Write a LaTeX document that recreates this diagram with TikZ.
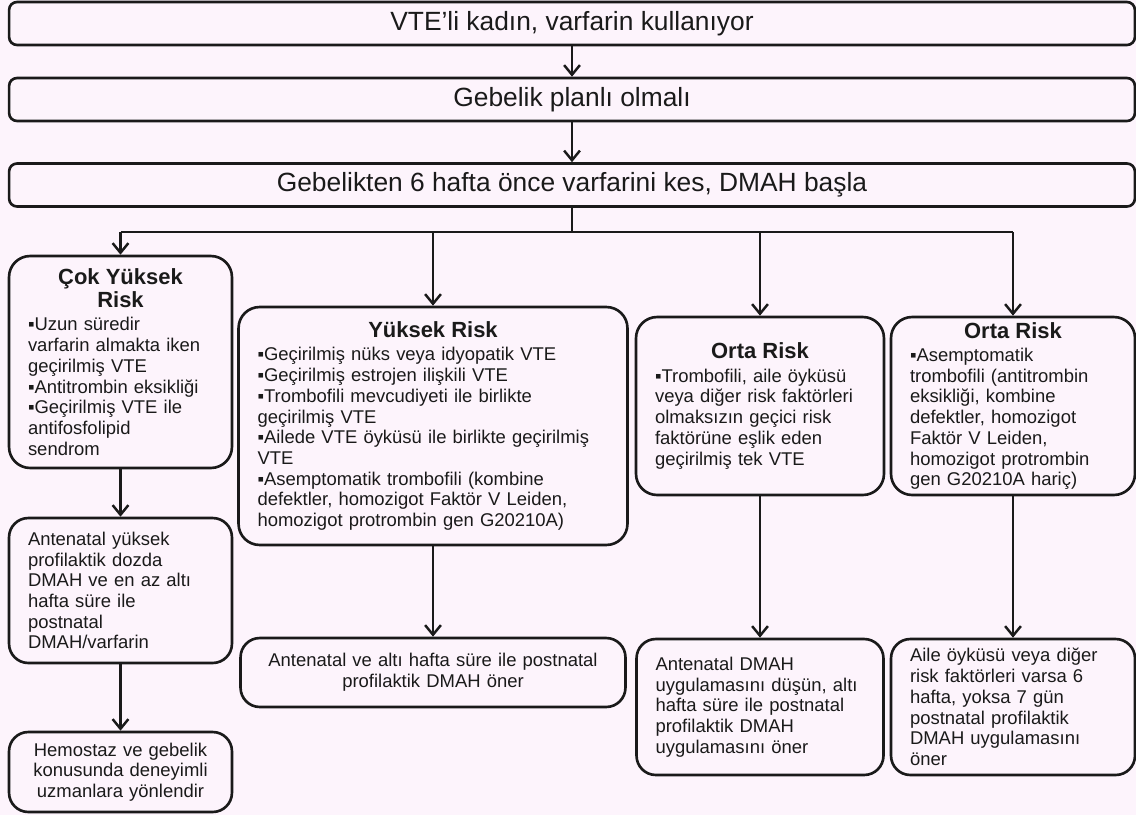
\documentclass[tikz,border=0pt]{standalone}
\usepackage{fontspec}
\setmainfont{Liberation Sans}
\usetikzlibrary{arrows.meta}

\definecolor{bgpink}{RGB}{253,244,252}
\definecolor{inkgray}{RGB}{26,26,26}

\begin{document}
\begin{tikzpicture}[x=0.02cm, y=-0.02cm,
    >={Straight Barb[length=5.5pt,width=9pt]},
    link/.style={line width=1.4pt, draw=inkgray},
    stagebox/.style={draw=inkgray, line width=1.5pt, rounded corners=4.5pt,
      minimum width=22.52cm, minimum height=0.86cm, inner sep=0pt,
      font=\fontsize{15}{18}\selectfont, text=inkgray},
    riskbox/.style={draw=inkgray, line width=1.5pt, rounded corners=12pt,
      inner xsep=0.38cm, inner ysep=0pt, align=left,
      font=\fontsize{10.5}{11.8}\selectfont, text=inkgray},
    advicebox/.style={riskbox, rounded corners=11pt}]
    \def\risktitle#1{{\centering\fontsize{12.5}{13.2}\selectfont\bfseries #1\par}\vspace{1.5pt}}

    \useasboundingbox (0, 0) rectangle (1136, 815);

    \fill [bgpink] (0, 0) rectangle (1136, 815);


    \node [stagebox] (start) at (572, 23.5) {VTE’li kadın, varfarin kullanıyor};

    \node [stagebox] (plan) at (572, 99.5) {Gebelik planlı olmalı};

    \node [stagebox] (stop) at (572, 185) {Gebelikten 6 hafta önce varfarini kes, DMAH başla};


    \node [riskbox, text width=3.70cm, minimum height=4.24cm] (cokrisk) at (120.5, 362)
    {\risktitle{Çok Yüksek\\Risk}▪Uzun süredir\\varfarin almakta iken\\geçirilmiş VTE\\▪Antitrombin eksikliği\\▪Geçirilmiş VTE ile\\antifosfolipid\\sendrom};

    \node [riskbox, text width=7.02cm, minimum height=4.76cm] (yuksekrisk) at (433, 426)
    {\risktitle{Yüksek Risk}▪Geçirilmiş nüks veya idyopatik VTE\\▪Geçirilmiş estrojen ilişkili VTE\\▪Trombofili mevcudiyeti ile birlikte\\geçirilmiş VTE\\▪Ailede VTE öyküsü ile birlikte geçirilmiş\\VTE\\▪Asemptomatik trombofili (kombine\\defektler, homozigot Faktör V Leiden,\\homozigot protrombin gen G20210A)};

    \node [riskbox, text width=4.20cm, minimum height=3.56cm] (ortarisk) at (760, 406)
    {\risktitle{Orta Risk}▪Trombofili, aile öyküsü\\veya diğer risk faktörleri\\olmaksızın geçici risk\\faktörüne eşlik eden\\geçirilmiş tek VTE};

    \node [riskbox, text width=4.12cm, minimum height=3.56cm] (ortatrisk) at (1013, 406)
    {\risktitle{Orta Risk}▪Asemptomatik\\trombofili (antitrombin\\eksikliği, kombine\\defektler, homozigot\\Faktör V Leiden,\\homozigot protrombin\\gen G20210A hariç)};


    \node [advicebox, text width=3.70cm, minimum height=2.90cm] (cokdmah) at (120.5, 590.5)
    {Antenatal yüksek\\profilaktik dozda\\DMAH ve en az altı\\hafta süre ile\\postnatal\\DMAH/varfarin};

    \node [advicebox, align=center, text width=3.70cm, minimum height=1.60cm] (uzman) at (120.5, 772)
    {Hemostaz ve gebelik\\konusunda deneyimli\\uzmanlara yönlendir};

    \node [advicebox, align=center, text width=6.94cm, minimum height=1.38cm] (yuksekdmah) at (433, 672.5)
    {Antenatal ve altı hafta süre ile postnatal\\profilaktik DMAH öner};

    \node [advicebox, text width=4.18cm, minimum height=2.72cm] (ortadmah) at (760, 707)
    {Antenatal DMAH\\uygulamasını düşün, altı\\hafta süre ile postnatal\\profilaktik DMAH\\uygulamasını öner};

    \node [advicebox, text width=4.12cm, minimum height=2.72cm] (ortatdmah) at (1013, 707)
    {Aile öyküsü veya diğer\\risk faktörleri varsa 6\\hafta, yoksa 7 gün\\postnatal profilaktik\\DMAH uygulamasını\\öner};


    \coordinate (split) at (572, 232);

    \draw [link, ->] (start) -- (plan);

    \draw [link, ->] (plan) -- (stop);

    \draw [link] (stop) -- (split);

    \draw [link] (cokrisk |- split) -- (ortatrisk |- split);

    \draw [link, ->] (cokrisk |- split) -- (cokrisk);

    \draw [link, ->] (yuksekrisk |- split) -- (yuksekrisk);

    \draw [link, ->] (ortarisk |- split) -- (ortarisk);

    \draw [link, ->] (ortatrisk |- split) -- (ortatrisk);

    \draw [link, ->] (cokrisk) -- (cokdmah);

    \draw [link, ->] (cokdmah) -- (uzman);

    \draw [link, ->] (yuksekrisk) -- (yuksekdmah);

    \draw [link, ->] (ortarisk) -- (ortadmah);

    \draw [link, ->] (ortatrisk) -- (ortatdmah);

  \end{tikzpicture}
\end{document}
